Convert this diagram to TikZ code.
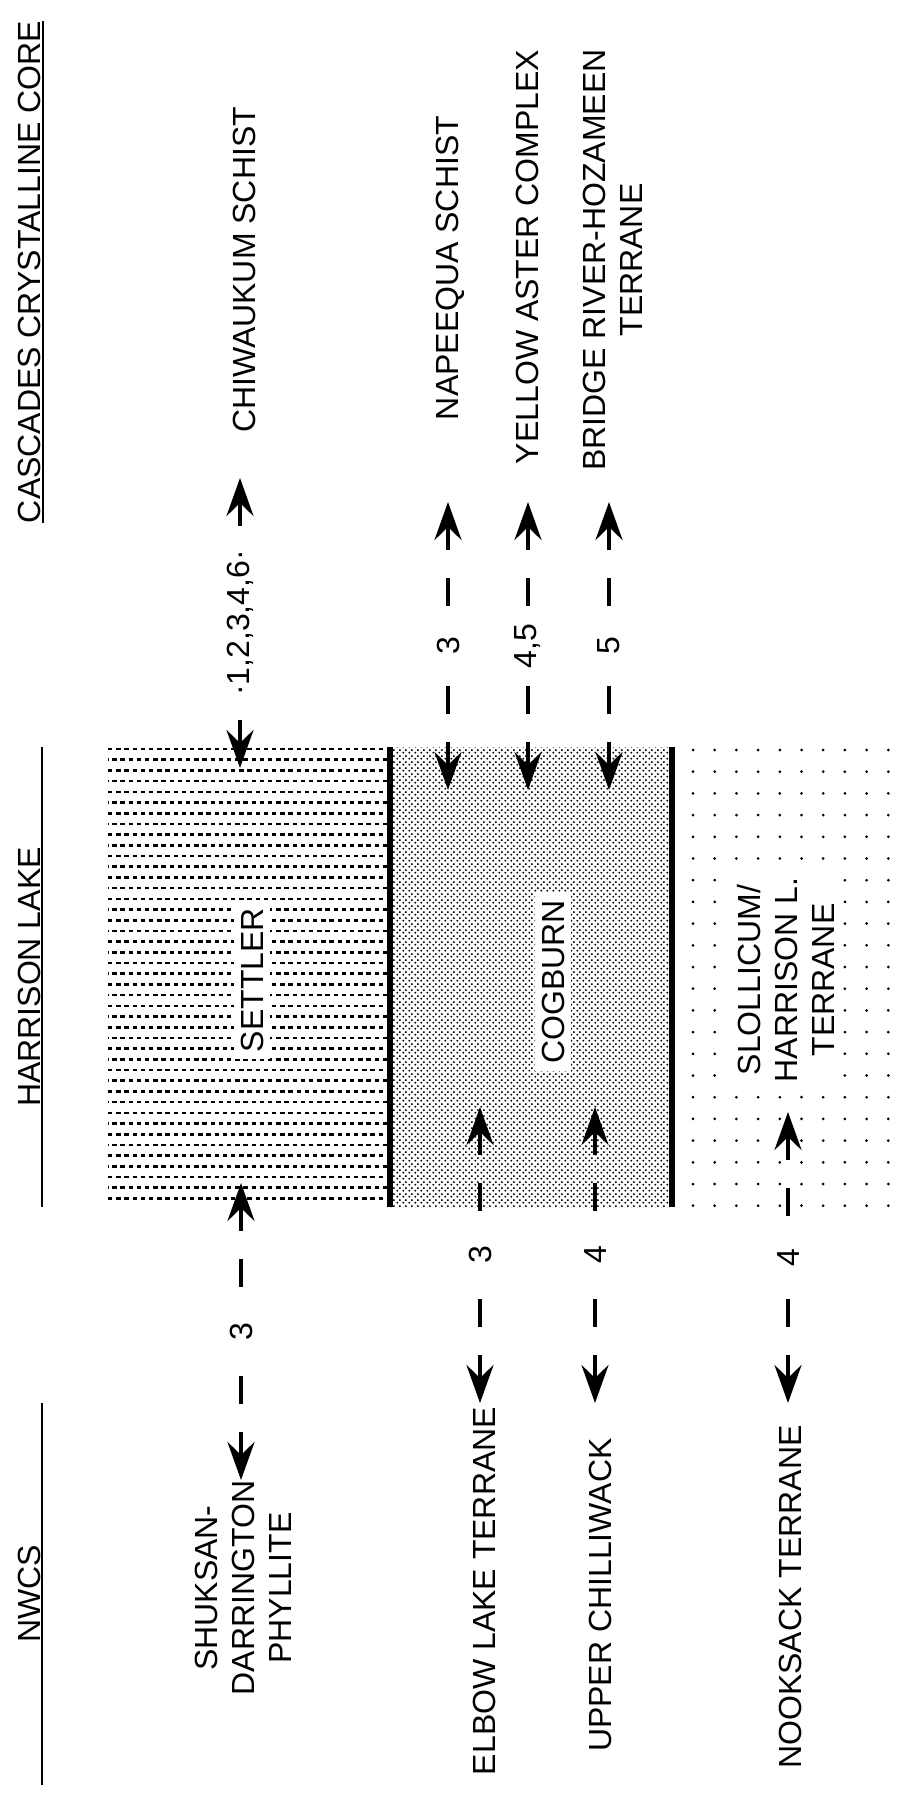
\documentclass[tikz,border=0pt]{standalone}
\usepackage{fontspec}
\setmainfont{Liberation Sans}
\usetikzlibrary{arrows.meta, calc, patterns.meta}

\newcommand{\diagfont}{\fontsize{32}{37}\selectfont}

\tikzdeclarepattern{
  name=stipple,
  type=uncolored,
  bounding box={(0pt,0pt) and (6pt,6pt)},
  tile size={(6pt,6pt)},
  code={
    \fill (1.5pt,1.5pt) circle (1.2pt);
    \fill (4.5pt,4.5pt) circle (1.2pt);
  }
}

\begin{document}
\begin{tikzpicture}[x=1pt, y=-1pt,
  txt/.style={font=\diagfont, rotate=90, inner sep=0pt, align=center},
  unit/.style={txt, fill=white, inner sep=7pt},
  rule/.style={line width=2pt},
  boundary/.style={line width=6pt},
  shaft/.style={line width=4.5pt, -{Stealth[length=38pt, width=27pt, inset=13pt]}},
  dashbar/.style={line width=4.5pt},
  num/.style={font=\diagfont, rotate=90, inner sep=1pt}]
\useasboundingbox (0,0) rectangle (899,1798);

% Settler: rows of short dashes
\foreach \i in {0,...,42} {
    \pgfmathsetmacro{\ypos}{749+10.7*\i}
    \pgfmathsetmacro{\ph}{mod(\i,2)*4.1}
    \draw[line width=2.6pt, dash pattern=on 4.4pt off 3.8pt, dash phase=\ph pt] (108,\ypos) -- (390,\ypos);
}
% Cogburn: dense stipple
\fill[pattern=stipple] (390,747) rectangle (672,1207);
% Slollicum: sparse dots
\foreach \i in {0,...,9}
    \foreach \j in {0,...,21}
        \fill (693+21.7*\i,750+21.7*\j) circle (1.5pt);

\node[unit] (settler) at (252,980) {SETTLER};
\node[unit] (cogburn) at (553,982) {COGBURN};
\node[unit, inner sep=6pt] (slollicum) at (786,980) {SLOLLICUM/\\HARRISON L.\\TERRANE};

\draw[boundary] (390,747) -- (390,1207);
\draw[boundary] (672,747) -- (672,1207);

% column headings
\node[txt] (hcore) at (29,272) {CASCADES CRYSTALLINE CORE};
\node[txt] (hlake) at (29,977) {HARRISON LAKE};
\node[txt] (hnwcs) at (29,1594) {NWCS};
\draw[rule] ([xshift=2pt]hcore.south west) -- ([xshift=2pt]hcore.south east);
\draw[rule] (42,747) -- (42,1207);
\draw[rule] (42,1403) -- (42,1785);

% terranes
\node[txt] (chiwaukum) at (244,270) {CHIWAUKUM SCHIST};
\node[txt] (napeequa) at (450,268) {NAPEEQUA SCHIST};
\node[txt] (yellow) at (527,257) {YELLOW ASTER COMPLEX};
\node[txt] (bridge) at (613,260) {BRIDGE RIVER-HOZAMEEN\\TERRANE};
\node[txt] (shuksan) at (243,1588) {SHUKSAN-\\DARRINGTON\\PHYLLITE};
\node[txt] (elbow) at (484,1591) {ELBOW LAKE TERRANE};
\node[txt] (chilliwack) at (600,1595) {UPPER CHILLIWACK};
\node[txt] (nooksack) at (790,1597) {NOOKSACK TERRANE};

% correlation ties
\foreach \n/\x/\ya/\yb/\lbl/\bars in {
    a/240/478/768/{·1,2,3,4,6·}/0,
    b/448/502/790/3/1,
    c/528/502/790/{4,5}/1,
    d/609/502/790/5/1,
    e/241/1183/1480/3/1,
    f/480/1107/1403/3/1,
    g/595/1107/1403/4/1,
    h/788/1112/1403/4/1
} {
    \coordinate (\n-up) at (\x,\ya);
    \coordinate (\n-dn) at (\x,\yb);
    \draw[shaft] ($(\n-up)!48pt!(\n-dn)$) -- (\n-up);
    \draw[shaft] ($(\n-dn)!48pt!(\n-up)$) -- (\n-dn);
    \ifnum\bars=1
        \draw[dashbar] ($(\n-up)!76pt!(\n-dn)$) -- ($(\n-up)!104pt!(\n-dn)$);
        \draw[dashbar] ($(\n-dn)!76pt!(\n-up)$) -- ($(\n-dn)!104pt!(\n-up)$);
    \fi
    \node[num] (lbl-\n) at ($(\n-up)!0.5!(\n-dn)$) {\lbl};
}
\end{tikzpicture}
\end{document}
